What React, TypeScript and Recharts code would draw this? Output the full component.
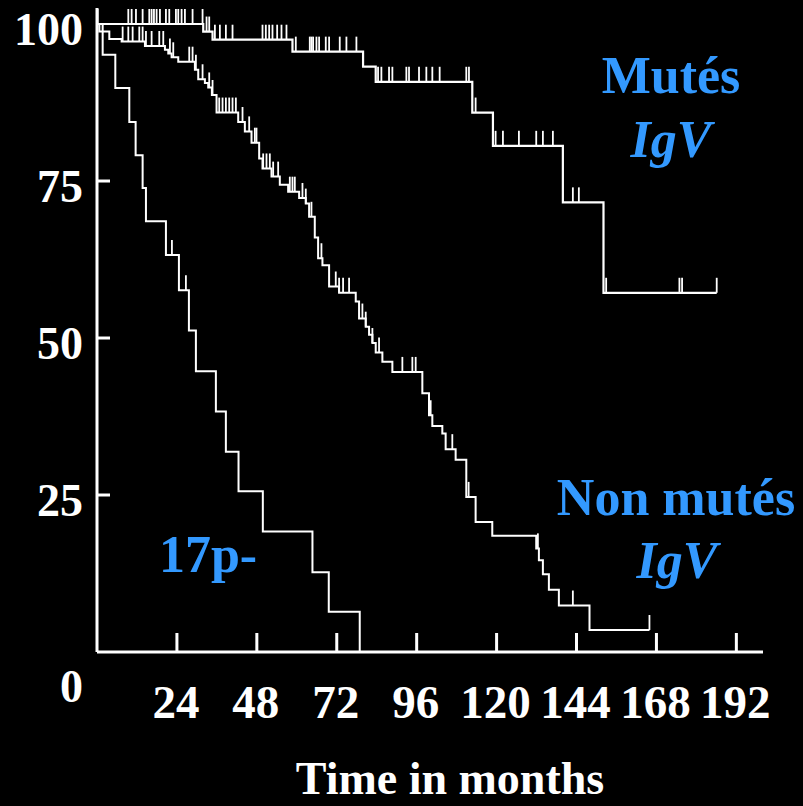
import React from 'react';
import { ComposedChart, Line, Scatter, XAxis, YAxis } from 'recharts';

// Kaplan-Meier step data (time in months, survival %)
const mutesT = [0, 31.9, 34.7, 58.7, 79.9, 83.7, 112.7, 118.9, 139.9, 152.1, 186.1];
const mutesS = [100, 98.8, 97.5, 95.6, 93.2, 90.8, 85.9, 80.6, 71.6, 57.2, 57.2];
const mutesCensor = [0.2, 9.4, 10.4, 11.7, 13.7, 15.7, 16.4, 17.1, 17.9, 18.9, 20.7, 21.7, 23.7, 24.4, 25.4, 26.4, 28.7, 31.7,
  32.9, 33.7, 35.4, 36.9, 38.7, 40.7, 49.7, 50.7, 51.7, 52.7, 54.1, 55.4, 56.9,
  59.7, 63.9, 64.4, 64.9, 65.9, 66.7, 68.7, 69.7, 72.9, 74.9, 77.9,
  84.4, 85.4, 87.7, 88.7, 92.9, 93.7, 96.7, 98.9, 100.7, 102.9, 110.9, 111.7,
  113.7, 119.7, 121.9, 126.7, 131.9, 133.9, 136.9, 142.9, 144.7, 152.9, 174.9, 175.7, 186.1];

const nonMutesT = [0, 0.7, 3.7, 7.4, 14.4, 20.4, 21.4, 22.4, 24.4, 29.4, 30.4, 32.4, 33.4, 34.5, 35.9, 42.4, 44.4, 46.4, 48.7, 49.7,
  52.4, 54.9, 57.4, 60.7, 62.7, 63.7, 65.4, 66.4, 67.7, 69.7, 72.7, 77.7, 78.7, 80.7, 81.7, 82.7, 83.7, 85.7, 88.7,
  97.7, 99.7, 100.7, 103.7, 104.7, 107.7, 110.9, 113.7, 118.7, 131.9, 132.7, 133.9, 135.7, 138.7, 147.9, 165.9];
const nonMutesS = [100, 98.8, 97.6, 97.2, 96.5, 95.9, 95.3, 94.7, 94.0, 92.7, 91.2, 90.6, 89.9, 88.7, 85.9, 84.4, 82.9, 81.1, 78.6, 77.0,
  75.7, 74.4, 73.3, 72.3, 71.4, 69.3, 66.0, 62.7, 61.6, 58.2, 57.2, 55.8, 53.1, 51.8, 50.5, 49.2, 47.7, 46.2, 44.6,
  41.2, 37.7, 36.0, 34.8, 32.3, 30.6, 24.7, 20.7, 18.5, 16.5, 14.6, 12.4, 9.9, 7.4, 3.5, 3.5];
const nonMutesCensor = [7.7, 9.4, 10.7, 12.7, 13.7, 14.7, 16.4, 18.7, 19.9, 21.9, 22.9, 27.7, 28.7, 29.7, 31.7, 33.7, 34.7,
  36.7, 37.7, 38.7, 39.7, 40.7, 41.7, 43.7, 45.7, 47.4, 47.9, 49.9, 50.9, 51.9, 52.9, 54.4, 57.9, 58.7, 59.4,
  61.7, 62.7, 64.4, 67.4, 71.7, 72.7, 73.9, 75.7, 79.7, 80.7, 82.7, 84.7, 91.7, 94.7, 95.7, 100.2, 106.7, 111.6,
  132.4, 142.9, 165.9];

const p17T = [0, 1.7, 5.5, 9.7, 11.6, 13.7, 14.7, 20.7, 24.6, 27.6, 29.7, 35.7, 38.7, 42.5, 49.8, 64.7, 69.6, 78.9];
const p17S = [100, 95.1, 89.8, 84.4, 79.1, 73.9, 68.6, 63.2, 57.6, 51.2, 44.7, 38.3, 31.9, 25.6, 19.2, 12.7, 6.4, 0];
const p17Censor = [22.5, 26.7];

const xTicks = [24, 48, 72, 96, 120, 144, 168, 192];
const yTicks = [0, 25, 50, 75, 100];

const toSteps = (ts: number[], ss: number[]) => ts.map((t, i) => ({ t, s: ss[i] }));
const survAt = (ts: number[], ss: number[], t: number) => {
  let v = ss[0];
  for (let i = 0; i < ts.length; i++) if (ts[i] <= t + 1e-9) v = ss[i];
  return v;
};
const toCensor = (cs: number[], ts: number[], ss: number[]) => cs.map((t) => ({ t, s: survAt(ts, ss, t) }));

const mutesData = toSteps(mutesT, mutesS);
const nonMutesData = toSteps(nonMutesT, nonMutesS);
const p17Data = toSteps(p17T, p17S);
const mutesCens = toCensor(mutesCensor, mutesT, mutesS);
const nonMutesCens = toCensor(nonMutesCensor, nonMutesT, nonMutesS);
const p17Cens = toCensor(p17Censor, p17T, p17S);

const FONT = "'Liberation Serif', 'Times New Roman', Times, serif";
const BLUE = '#3399FF';

const CensorMark = (props: any) => {
  const { cx, cy } = props;
  if (cx == null || cy == null) return <g />;
  return <line x1={cx} y1={cy} x2={cx} y2={cy - 15} stroke="#fff" strokeWidth={1.8} />;
};

const YTick = (props: any) => {
  const { x, y, payload } = props;
  const v = payload.value;
  if (v === 0) {
    return (
      <text x={x - 14} y={702} textAnchor="end" fill="#fff" fontFamily={FONT} fontWeight="bold" fontSize={46}>0</text>
    );
  }
  return (
    <g>
      {v !== 100 && <line x1={x} y1={y} x2={x + 13} y2={y} stroke="#fff" strokeWidth={3} />}
      <text x={x - 14} y={y + 21} textAnchor="end" fill="#fff" fontFamily={FONT} fontWeight="bold" fontSize={46}>{v}</text>
    </g>
  );
};

const XTick = (props: any) => {
  const { x, y, payload } = props;
  return (
    <g>
      <line x1={x} y1={y} x2={x} y2={y - 19} stroke="#fff" strokeWidth={3} />
      <text x={x - 1} y={y + 66} textAnchor="middle" fill="#fff" fontFamily={FONT} fontWeight="bold" fontSize={47}>{payload.value}</text>
    </g>
  );
};

export default function App() {
  return (
    <div style={{ position: 'absolute', left: 0, top: 0, width: 803, height: 806, background: '#000', overflow: 'hidden' }}>
      <ComposedChart width={803} height={806} margin={{ top: 8, right: 40, bottom: 54, left: 0 }}>
        <XAxis
          dataKey="t"
          type="number"
          domain={[0, 200]}
          ticks={xTicks}
          interval={0}
          height={100}
          tickSize={0}
          tickMargin={0}
          tickLine={false}
          axisLine={{ stroke: '#fff', strokeWidth: 3 }}
          tick={<XTick />}
          allowDataOverflow
        />
        <YAxis
          type="number"
          domain={[0, 102.55]}
          ticks={yTicks}
          interval={0}
          width={97}
          tickSize={0}
          tickMargin={0}
          tickLine={false}
          axisLine={{ stroke: '#fff', strokeWidth: 3 }}
          tick={<YTick />}
          allowDataOverflow
        />
        <Line data={mutesData} dataKey="s" type="stepAfter" stroke="#fff" strokeWidth={2.2} dot={false} isAnimationActive={false} />
        <Line data={nonMutesData} dataKey="s" type="stepAfter" stroke="#fff" strokeWidth={2} dot={false} isAnimationActive={false} />
        <Line data={p17Data} dataKey="s" type="stepAfter" stroke="#fff" strokeWidth={2} dot={false} isAnimationActive={false} />
        <Scatter data={mutesCens} dataKey="s" shape={<CensorMark />} isAnimationActive={false} />
        <Scatter data={nonMutesCens} dataKey="s" shape={<CensorMark />} isAnimationActive={false} />
        <Scatter data={p17Cens} dataKey="s" shape={<CensorMark />} isAnimationActive={false} />
      </ComposedChart>
      <svg width={803} height={806} style={{ position: 'absolute', left: 0, top: 0, pointerEvents: 'none' }}>
        <g fontFamily={FONT} fontWeight="bold" fontSize={52} fill={BLUE} textAnchor="middle">
          <text x={671} y={93}>Mutés</text>
          <text x={671} y={157} fontStyle="italic">IgV</text>
          <text x={676} y={515}>Non mutés</text>
          <text x={677} y={578} fontStyle="italic">IgV</text>
          <text x={208} y={572}>17p-</text>
        </g>
        <text x={450} y={794} textAnchor="middle" fill="#fff" fontFamily={FONT} fontWeight="bold" fontSize={46}>Time in months</text>
      </svg>
    </div>
  );
}
